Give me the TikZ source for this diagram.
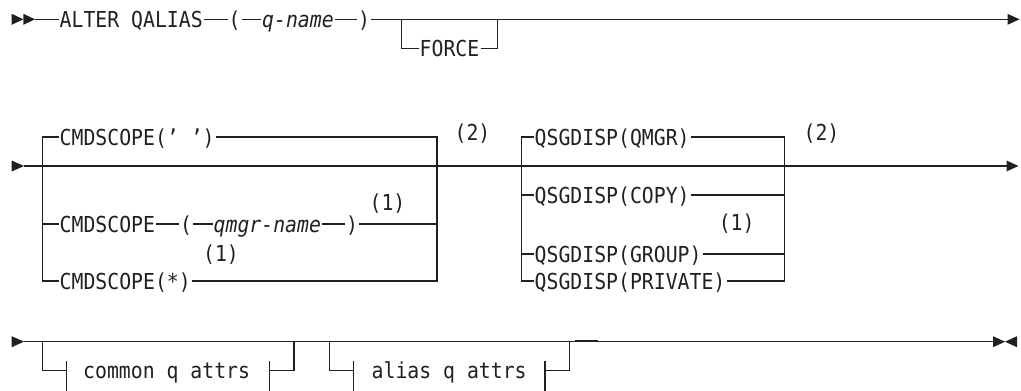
\documentclass[tikz,border=0pt]{standalone}
\usepackage{fontspec}
\newfontfamily\synfont[FakeStretch=0.9,ItalicFont={DejaVu Sans Mono Oblique}]{DejaVu Sans Mono}
\definecolor{ink}{RGB}{35,31,32}
\begin{document}
\begin{tikzpicture}[x=1pt,y=-1pt,
  txt/.style={anchor=west,inner xsep=1pt,inner ysep=0pt,text height=18pt,text depth=2pt,
    font=\synfont\fontsize{22}{24}\selectfont,text=ink},
  note/.style={anchor=center,inner sep=0pt,text height=18pt,text depth=2pt,
    font=\synfont\fontsize{22}{24}\selectfont,text=ink},
  rail/.style={line width=1.3pt,draw=ink},
  tip/.style={fill=ink}]
\useasboundingbox (0,0) rectangle (1021,391);
% ---------- row 1
\coordinate (s1) at (11.7,19.3);
\coordinate (r1s) at (35,19.3);
\fill[tip] (s1) ++(0,-5.5) -- ++(11.65,5.5) -- ++(-11.65,5.5) -- cycle;
\fill[tip] (s1) ++(11.65,-5.5) -- ++(11.65,5.5) -- ++(-11.65,5.5) -- cycle;
\node[txt] (alter) at (58.5,19.3) {ALTER QALIAS};
\node[txt] (lp1) at (227.5,19.3) {(};
\node[txt] (qname) at (261,19.3) {\itshape q-name};
\node[txt] (rp1) at (357,19.3) {)};
\node[txt] (force) at (418.5,48.3) {FORCE};
\coordinate (f1) at (401.7,19.3);
\coordinate (f2) at (497.3,19.3);
\coordinate (e1) at (1007.5,19.3);
\draw[rail] (r1s) -- (alter.west);
\draw[rail] (alter.east) -- (lp1.west);
\draw[rail] (lp1.east) -- (qname.west);
\draw[rail] (qname.east) -- (rp1.west);
\draw[rail] (rp1.east) -- (e1);
\draw[rail] (f1) |- (force.west);
\draw[rail] (force.east) -| (f2);
\fill[tip] (e1) ++(0,-5.5) -- ++(12,5.5) -- ++(-12,5.5) -- cycle;
% ---------- row 2
\coordinate (s2) at (11.7,166);
\coordinate (r2s) at (24,166);
\coordinate (e2) at (1006.5,166);
\fill[tip] (s2) ++(0,-5.5) -- ++(12.3,5.5) -- ++(-12.3,5.5) -- cycle;
\draw[rail] (r2s) -- (e2);
\fill[tip] (e2) ++(0,-5.5) -- ++(12,5.5) -- ++(-12,5.5) -- cycle;
% left group
\coordinate (lb) at (42.7,281);
\coordinate (rb) at (437,281);
\node[txt] (cs1) at (58.5,137) {CMDSCOPE(’ ’)};
\node[txt] (cs2) at (58.5,224) {CMDSCOPE};
\node[txt] (lp2) at (179,224) {(};
\node[txt] (qm) at (212.5,224) {\itshape qmgr-name};
\node[txt] (rp2) at (345,224) {)};
\node[txt] (cs3) at (58.5,281) {CMDSCOPE(*)};
\draw[rail] (cs1.west) -| (lb) -- (cs3.west);
\draw[rail] (cs1.east) -| (rb) -- (cs3.east);
\draw[rail] (cs2.west -| lb) -- (cs2.west);
\draw[rail] (cs2.east) -- (lp2.west);
\draw[rail] (lp2.east) -- (qm.west);
\draw[rail] (qm.east) -- (rp2.west);
\draw[rail] (rp2.east) -- (cs2.west -| rb);
\node[note] (n2a) at (472.5,132.5) {(2)};
\node[note] (n1a) at (387.5,202) {(1)};
\node[note] (n1b) at (221,253) {(1)};
% right group
\coordinate (qlb) at (521.7,281);
\coordinate (qrb) at (784.3,281);
\node[txt] (q1) at (533.5,137) {QSGDISP(QMGR)};
\node[txt] (q2) at (533.5,195) {QSGDISP(COPY)};
\node[txt] (q3) at (533.5,254) {QSGDISP(GROUP)};
\node[txt] (q4) at (533.5,281) {QSGDISP(PRIVATE)};
\draw[rail] (q1.west) -| (qlb) -- (q4.west);
\draw[rail] (q1.east) -| (qrb) -- (q4.east);
\draw[rail] (q2.west -| qlb) -- (q2.west);
\draw[rail] (q2.east) -- (q2.east -| qrb);
\draw[rail] (q3.west -| qlb) -- (q3.west);
\draw[rail] (q3.east) -- (q3.east -| qrb);
\node[note] (n2b) at (821.5,132.5) {(2)};
\node[note] (n1c) at (736.7,222) {(1)};
% ---------- row 3
\coordinate (s3) at (11.7,341.7);
\coordinate (r3s) at (24,341.7);
\coordinate (e3) at (993,341.7);
\fill[tip] (s3) ++(0,-5.5) -- ++(12.3,5.5) -- ++(-12.3,5.5) -- cycle;
\draw[rail] (r3s) -- (e3);
\fill[tip] (e3) ++(0,-5.5) -- ++(12,5.5) -- ++(-12,5.5) -- cycle;
\fill[tip] (e3) ++(24,-5.5) -- ++(-12,5.5) -- ++(12,5.5) -- cycle;
% common q attrs
\coordinate (ca) at (42.7,341.7);
\coordinate (cb) at (294,341.7);
\coordinate (ct1) at (66.7,370.7);
\coordinate (ct2) at (269.3,370.7);
\node[txt] (cqa) at (82,370.7) {common q attrs};
\draw[rail] (ca) |- (ct1);
\draw[rail] (ct2) -| (cb);
\draw[rail] (ct1) ++(0,-9.7) -- ++(0,30.5);
\draw[rail] (ct2) ++(0,-9.7) -- ++(0,30.5);
% alias q attrs
\coordinate (aa) at (329.3,341.7);
\coordinate (ab) at (569.3,341.7);
\coordinate (at1) at (353.3,370.7);
\coordinate (at2) at (545,370.7);
\node[txt] (aqa) at (370.5,370.7) {alias q attrs};
\draw[rail] (aa) |- (at1);
\draw[rail] (at2) -| (ab);
\draw[rail] (at1) ++(0,-9.7) -- ++(0,30.5);
\draw[rail] (at2) ++(0,-9.7) -- ++(0,30.5);
\coordinate (xa) at (575,341.2);
\coordinate (xb) at (598,341.2);
\draw[line width=2pt,draw=ink] (xa) -- (xb);
\end{tikzpicture}
\end{document}
